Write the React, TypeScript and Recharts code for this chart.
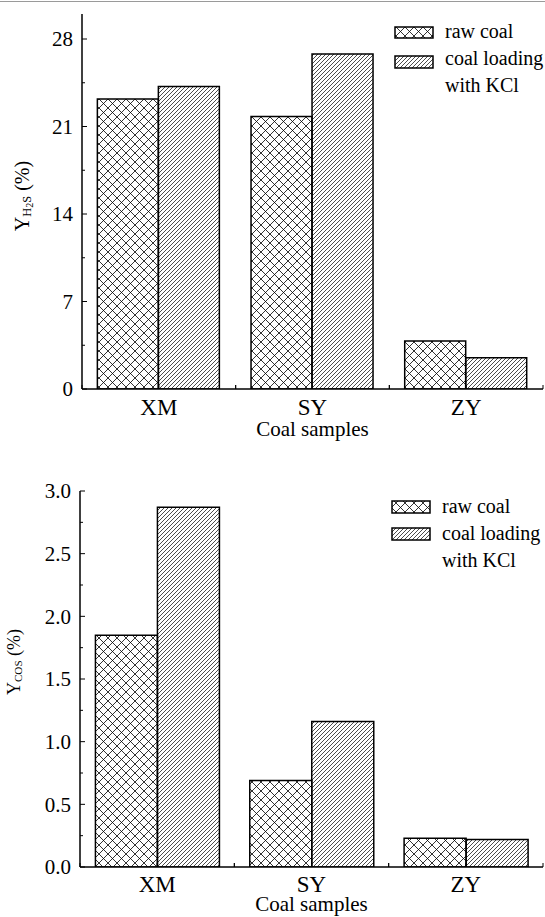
import { BarChart, Bar, XAxis, YAxis, Legend, Label } from 'recharts';

// sample names on the x axis
const categories = ['XM', 'SY', 'ZY'];
const seriesNames = ['raw coal', 'coal loading', 'with KCl'];

// H2S yield (%)
const h2sRaw = [23.2, 21.8, 3.85];
const h2sKcl = [24.2, 26.8, 2.5];
const h2sTicks = [0, 3.5, 7, 10.5, 14, 17.5, 21, 24.5, 28];
const h2sMajor = [0, 7, 14, 21, 28];

// COS yield (%), lower panel
const cosRaw = [1.85, 0.69, 0.23];
const cosKcl = [2.87, 1.16, 0.22];
const cosTicks = [0, 0.25, 0.5, 0.75, 1, 1.25, 1.5, 1.75, 2, 2.25, 2.5, 2.75, 3];
const cosMajor = [0, 0.5, 1, 1.5, 2, 2.5, 3];

const FONT = "'Liberation Serif', 'Times New Roman', serif";
const W = 545;

type PanelProps = {
  id: string;
  raw: number[];
  kcl: number[];
  domain: [number, number];
  ticks: number[];
  major: number[];
  fmt: (v: number) => string;
  height: number;
  top: number;
  marginTop: number;
  marginBottom: number;
  xAxisH: number;
  yAxisW: number;
  ySub: string;
  yLabelX: number;
  yLabelCy: number;
  yLabelSize: number;
  legendX: number;
  legendRows: { y: number; h: number; base: number }[];
  legendThird: number;
  tickLabelY: number;
  titleY: number;
};

function Panel(p: PanelProps) {
  const data = categories.map((name, i) => ({ name, raw: p.raw[i], kcl: p.kcl[i] }));
  const plotW = W - p.yAxisW - 2;
  const half = plotW / 6;
  const cross = `${p.id}-cross`;
  const diag = `${p.id}-diag`;

  const leftTick = (t: any) => {
    const isMajor = p.major.includes(t.payload.value);
    return (
      <g>
        <line x1={t.x} x2={t.x + (isMajor ? 5 : 3)} y1={t.y} y2={t.y} stroke="#000" strokeWidth={1} />
        {isMajor && (
          <text x={t.x - 9} y={t.y} dy="0.35em" textAnchor="end" fontSize={21} style={{ fontFamily: FONT }} fill="#000">
            {p.fmt(t.payload.value)}
          </text>
        )}
      </g>
    );
  };
  const rightTick = (t: any) => {
    const isMajor = p.major.includes(t.payload.value);
    return <line x1={t.x} x2={t.x - (isMajor ? 5 : 3)} y1={t.y} y2={t.y} stroke="#000" strokeWidth={1} />;
  };
  const bottomTick = (t: any) => (
    <g>
      {[-half, 0, half].map((d) => (
        <line key={d} x1={t.x + d} x2={t.x + d} y1={t.y} y2={t.y - 4} stroke="#000" strokeWidth={1} />
      ))}
      <text x={t.x} y={t.y + p.tickLabelY} textAnchor="middle" fontSize={23} style={{ fontFamily: FONT }} fill="#000">
        {t.payload.value}
      </text>
    </g>
  );
  const topTick = (t: any) => (
    <g>
      {[-half, 0, half].map((d) => (
        <line key={d} x1={t.x + d} x2={t.x + d} y1={t.y} y2={t.y + 4} stroke="#000" strokeWidth={1} />
      ))}
    </g>
  );

  const legend = () => (
    <svg width={W} height={p.height} style={{ display: 'block' }}>
      {p.legendRows.map((r, i) => (
        <g key={i}>
          <rect x={p.legendX} y={r.y} width={38} height={r.h} fill={`url(#${i === 0 ? cross : diag})`} stroke="#000" strokeWidth={1.5} />
          <text x={p.legendX + 50} y={r.base} fontSize={20} style={{ fontFamily: FONT }} fill="#000">
            {seriesNames[i]}
          </text>
        </g>
      ))}
      <text x={p.legendX + 50} y={p.legendThird} fontSize={20} style={{ fontFamily: FONT }} fill="#000">
        {seriesNames[2]}
      </text>
    </svg>
  );

  return (
    <div style={{ position: 'absolute', left: 0, top: p.top }}>
      <BarChart
        width={W}
        height={p.height}
        data={data}
        margin={{ top: p.marginTop, right: 2, left: 0, bottom: p.marginBottom }}
        barCategoryGap="10%"
        barGap={0}
      >
        <defs>
          <pattern id={cross} width={9} height={9} patternUnits="userSpaceOnUse">
            <path d="M0,0 L9,9 M9,0 L0,9" stroke="#000" strokeWidth={0.8} />
          </pattern>
          <pattern id={diag} width={4} height={4} patternUnits="userSpaceOnUse">
            <path d="M-1,1 L1,-1 M0,4 L4,0 M3,5 L5,3" stroke="#000" strokeWidth={0.7} />
          </pattern>
        </defs>
        <XAxis
          xAxisId="b"
          dataKey="name"
          orientation="bottom"
          height={p.xAxisH}
          axisLine={{ stroke: '#000', strokeWidth: 1.5 }}
          tickLine={false}
          tickSize={0}
          tickMargin={0}
          interval={0}
          tick={bottomTick}
        >
          <Label
            content={() => (
              <text x={p.yAxisW + plotW / 2} y={p.titleY} textAnchor="middle" fontSize={21} style={{ fontFamily: FONT }} fill="#000">
                Coal samples
              </text>
            )}
          />
        </XAxis>
        <XAxis
          xAxisId="t"
          dataKey="name"
          orientation="top"
          height={0}
          axisLine={{ stroke: '#000', strokeWidth: 1.5 }}
          tickLine={false}
          tickSize={0}
          tickMargin={0}
          interval={0}
          tick={topTick}
        />
        <YAxis
          yAxisId="l"
          width={p.yAxisW}
          domain={p.domain}
          ticks={p.ticks}
          interval={0}
          allowDataOverflow
          axisLine={{ stroke: '#000', strokeWidth: 1.5 }}
          tickLine={false}
          tickSize={0}
          tickMargin={0}
          tick={leftTick}
        >
          <Label
            content={() => (
              <text
                transform={`rotate(-90, ${p.yLabelX}, ${p.yLabelCy})`}
                x={p.yLabelX}
                y={p.yLabelCy}
                textAnchor="middle"
                fontSize={p.yLabelSize}
                style={{ fontFamily: FONT }}
                fill="#000"
              >
                <tspan>Y</tspan>
                <tspan fontSize={p.yLabelSize * 0.62} dy={2}>{p.ySub === 'H2S' ? 'H' : 'COS'}</tspan>
                {p.ySub === 'H2S' && (
                  <>
                    <tspan fontSize={p.yLabelSize * 0.5} dy={2}>2</tspan>
                    <tspan fontSize={p.yLabelSize * 0.62} dy={-2}>S</tspan>
                  </>
                )}
                <tspan dy={-2}> (%)</tspan>
              </text>
            )}
          />
        </YAxis>
        <YAxis
          yAxisId="r"
          orientation="right"
          width={0}
          domain={p.domain}
          ticks={p.ticks}
          interval={0}
          allowDataOverflow
          axisLine={{ stroke: '#000', strokeWidth: 1.5 }}
          tickLine={false}
          tickSize={0}
          tickMargin={0}
          tick={rightTick}
        />
        <Legend
          layout="vertical"
          align="center"
          verticalAlign="middle"
          content={legend}
          wrapperStyle={{ position: 'absolute', left: 0, top: 0, width: W, height: p.height, pointerEvents: 'none' }}
        />
        <Bar
          xAxisId="b"
          yAxisId="l"
          dataKey="raw"
          name="raw coal"
          fill={`url(#${cross})`}
          stroke="#000"
          strokeWidth={1.5}
          isAnimationActive={false}
        />
        <Bar
          xAxisId="b"
          yAxisId="l"
          dataKey="kcl"
          name="coal loading with KCl"
          fill={`url(#${diag})`}
          stroke="#000"
          strokeWidth={1.5}
          isAnimationActive={false}
        />
      </BarChart>
    </div>
  );
}

export default function App() {
  return (
    <div style={{ position: 'absolute', left: 0, top: 0, width: W, height: 917, background: '#fff', overflow: 'hidden' }}>
      <div style={{ position: 'absolute', left: 0, top: 1, width: W, height: 1, background: '#9a9a9a' }} />
      <Panel
        id="h2s"
        raw={h2sRaw}
        kcl={h2sKcl}
        domain={[0, 30]}
        ticks={h2sTicks}
        major={h2sMajor}
        fmt={(v) => String(v)}
        height={446}
        top={0}
        marginTop={14}
        marginBottom={6}
        xAxisH={51}
        yAxisW={82}
        ySub="H2S"
        yLabelX={29}
        yLabelCy={196}
        yLabelSize={20}
        legendX={395}
        legendRows={[
          { y: 27, h: 11, base: 38 },
          { y: 56, h: 12, base: 65 },
        ]}
        legendThird={92}
        tickLabelY={26}
        titleY={436}
      />
      <Panel
        id="cos"
        raw={cosRaw}
        kcl={cosKcl}
        domain={[0, 3]}
        ticks={cosTicks}
        major={cosMajor}
        fmt={(v) => v.toFixed(1)}
        height={477}
        top={440}
        marginTop={51}
        marginBottom={0}
        xAxisH={50}
        yAxisW={80}
        ySub="COS"
        yLabelX={20}
        yLabelCy={222}
        yLabelSize={18}
        legendX={392}
        legendRows={[
          { y: 61, h: 12, base: 73 },
          { y: 88, h: 12, base: 100 },
        ]}
        legendThird={127}
        tickLabelY={25}
        titleY={471}
      />
    </div>
  );
}
